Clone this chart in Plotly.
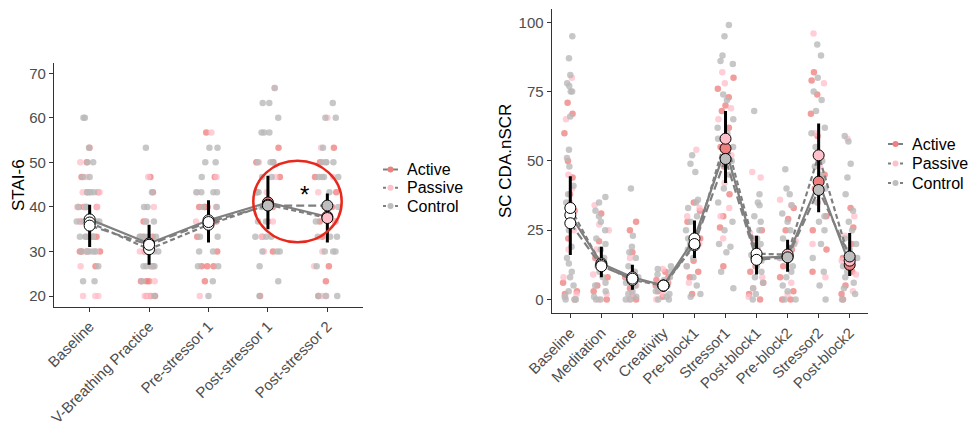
import plotly.graph_objects as go

W, H = 972, 425
groups = ["Active", "Passive", "Control"]
point_colors = {"Active": "rgba(238,128,128,0.78)", "Passive": "rgba(255,190,202,0.75)", "Control": "rgba(185,185,185,0.8)"}
mean_colors = {"Active": "#F08080", "Passive": "#FFC0CB", "Control": "#BEBEBE"}
dashes = {"Active": "solid", "Passive": "5px,3px", "Control": "8px,4px"}

# ---------------- Left panel: STAI-6 ----------------
left_cats = ["Baseline", "V-Breathing Practice", "Pre-stressor 1", "Post-stressor 1", "Post-stressor 2"]
left_active = [
    [53.3, 43.3, 40, 40, 36.7, 36.7, 33.3, 33.3, 30, 30, 30, 40, 43.3, 36.7, 33.3, 26.7, 46.7, 50, 30, 40],
    [46.7, 43.3, 36.7, 33.3, 30, 26.7, 23.3, 23.3, 23.3, 20, 20, 20, 33.3, 30],
    [56.7, 46.7, 40, 40, 40, 36.7, 30, 26.7, 26.7, 26.7, 23.3, 40, 33.3],
    [53.3, 50, 50, 46.7, 40, 36.7, 30, 20, 43.3, 33.3],
    [53.3, 50, 46.7, 43.3, 40, 36.7, 33.3, 26.7, 23.3, 20, 36.7],
]
left_passive = [
    [50, 46.7, 43.3, 40, 40, 36.7, 33.3, 30, 26.7, 20, 20, 20, 36.7, 40, 33.3, 30, 43.3, 36.7],
    [46.7, 40, 36.7, 33.3, 30, 26.7, 23.3, 20, 20, 30],
    [56.7, 46.7, 40, 20, 43.3, 36.7],
    [66.7, 50, 46.7, 43.3, 36.7, 33.3, 30],
    [60, 53.3, 46.7, 43.3, 40, 36.7, 30, 26.7, 20, 20],
]
left_control = [
    [60, 60, 53.3, 50, 50, 46.7, 46.7, 43.3, 43.3, 43.3, 40, 40, 36.7, 36.7, 36.7, 33.3, 33.3, 33.3, 30, 30, 30, 30, 26.7, 23.3, 23.3, 36.7, 40, 33.3, 30, 43.3],
    [53.3, 43.3, 40, 36.7, 33.3, 33.3, 33.3, 33.3, 30, 30, 26.7, 26.7, 26.7, 26.7, 23.3, 20, 36.7, 33.3, 30, 40],
    [53.3, 53.3, 50, 50, 46.7, 43.3, 43.3, 43.3, 43.3, 40, 36.7, 33.3, 33.3, 30, 30, 26.7, 26.7, 23.3, 20, 36.7, 40],
    [66.7, 63.3, 63.3, 60, 56.7, 56.7, 56.7, 50, 50, 50, 46.7, 46.7, 43.3, 40, 36.7, 33.3, 33.3, 33.3, 30, 30, 30, 26.7, 23.3, 20, 43.3, 36.7],
    [63.3, 60, 60, 53.3, 50, 50, 50, 46.7, 46.7, 46.7, 43.3, 40, 36.7, 33.3, 33.3, 33.3, 30, 30, 30, 26.7, 20, 20, 20, 50, 46.7],
]
left_means = {
    "Active": [37.2, 31.8, 37.0, 41.0, 37.8],
    "Passive": [36.5, 30.5, 36.0, 40.5, 37.5],
    "Control": [35.8, 31.5, 36.6, 40.3, 40.3],
}
left_fill = {
    "Active": ["white", "white", "white", "color", "color"],
    "Passive": ["white", "white", "white", "color", "color"],
    "Control": ["white", "white", "white", "color", "color"],
}
left_err_lo = [31, 27, 32, 35, 32]
left_err_hi = [40.5, 36, 41.5, 47, 43]

# ---------------- Right panel: SC CDA.nSCR ----------------
right_cats = ["Baseline", "Meditation", "Practice", "Creativity", "Pre-block1",
              "Stressor1", "Post-block1", "Pre-block2", "Stressor2", "Post-block2"]
right_active = [
    [71, 67, 60, 50, 44, 38, 32, 22, 6, 3, 0, 2],
    [31, 21, 12, 5, 3, 0, 8, 15],
    [28, 25, 17, 8, 4, 1, 0],
    [10, 8, 6, 5, 3, 1, 7],
    [35, 32, 28, 22, 14, 10, 8, 2],
    [80, 76, 73, 70, 68, 62, 55, 48, 38, 30, 26, 12],
    [25, 22, 18, 12, 10, 6, 2, 0],
    [33, 29, 25, 18, 12, 8, 3, 0, 0],
    [82, 79, 74, 67, 59, 52, 45, 40, 30, 25, 18, 10],
    [33, 26, 20, 15, 10, 5, 2, 0],
]
right_passive = [
    [80, 65, 45, 40, 35, 25, 18, 8, 2, 0, 1],
    [34, 27, 25, 18, 9, 2, 0],
    [15, 10, 5, 2, 0],
    [11, 7, 4, 2, 0],
    [54, 33, 30, 20, 12, 6],
    [82, 78, 69, 65, 52, 42, 33, 30, 22],
    [46, 44, 24, 15, 8, 4, 1],
    [36, 34, 21, 15, 6, 2],
    [96, 78, 60, 48, 35, 20, 8],
    [58, 30, 23, 14, 9, 3],
]
right_control = [
    [95, 87, 81, 78, 77, 75, 75, 66, 54, 51, 48, 41, 38, 35, 28, 25, 19, 15, 13, 10, 8, 5, 3, 1, 0, 0, 0],
    [37, 35, 32, 30, 28, 25, 22, 20, 18, 15, 12, 10, 8, 6, 5, 3, 1, 0, 0],
    [40, 23, 19, 17, 15, 12, 10, 8, 6, 5, 3, 2, 1, 0, 0],
    [12, 11, 10, 9, 8, 7, 6, 5, 4, 3, 2, 1, 0, 0],
    [52, 49, 46, 36, 35, 33, 30, 28, 25, 22, 20, 18, 15, 12, 8, 5, 2, 1],
    [99, 95, 88, 86, 85, 74, 72, 65, 62, 60, 58, 55, 50, 45, 40, 35, 28, 25, 20, 19, 17, 10, 4],
    [68, 38, 35, 34, 30, 28, 25, 22, 20, 18, 16, 14, 12, 10, 8, 6, 4, 2, 0],
    [47, 40, 38, 34, 31, 28, 25, 22, 20, 18, 15, 12, 10, 8, 5, 3, 0, 0],
    [92, 88, 80, 75, 72, 68, 62, 60, 55, 50, 48, 45, 40, 35, 30, 28, 25, 20, 15, 10, 5, 0],
    [59, 57, 49, 44, 38, 32, 28, 25, 22, 20, 18, 15, 12, 10, 8, 6, 4, 2, 0],
]
right_means = {
    "Active": [30.5, 13.0, 8.0, 5.0, 22.0, 54.5, 15.0, 15.5, 42.5, 12.5],
    "Passive": [33.0, 12.5, 7.0, 5.0, 19.5, 58.0, 16.5, 16.2, 52.0, 14.0],
    "Control": [27.5, 12.0, 7.5, 5.0, 20.0, 50.7, 14.3, 15.2, 39.5, 15.5],
}
right_fill = {
    g: ["white", "white", "white", "white", "white", "color", "white", "color", "color", "color"]
    for g in groups
}
right_err_lo = [16, 8, 3.5, 3, 15, 42, 9, 10, 31.5, 8.5]
right_err_hi = [44.5, 19, 12.5, 7, 28.5, 68, 23, 21.5, 63.5, 24]

fig = go.Figure()
shapes = []
annotations = []


def add_panel(cats, data, means, fills, lo, hi, xref, yref, box_w):
    # jittered raw points
    for g in groups:
        xs, ys = [], []
        for c, vals in zip(cats, data[g]):
            xs += [c] * len(vals)
            ys += vals
        fig.add_trace(go.Box(
            x=xs, y=ys, xaxis=xref, yaxis=yref, boxpoints="all", jitter=1.0, pointpos=0,
            width=box_w, fillcolor="rgba(0,0,0,0)", line=dict(width=0, color="rgba(0,0,0,0)"),
            marker=dict(color=point_colors[g], size=6.5, line=dict(width=0)),
            showlegend=False, hoverinfo="skip"))
    # group mean lines
    for g in groups:
        fig.add_trace(go.Scatter(
            x=cats, y=means[g], xaxis=xref, yaxis=yref, mode="lines",
            line=dict(color="#7f7f7f", width=2.2, dash=dashes[g]), showlegend=False, hoverinfo="skip"))
    # error bars
    ex, ey = [], []
    for c, l, h in zip(cats, lo, hi):
        ex += [c, c, None]
        ey += [l, h, None]
    fig.add_trace(go.Scatter(x=ex, y=ey, xaxis=xref, yaxis=yref, mode="lines",
                             line=dict(color="black", width=3), showlegend=False, hoverinfo="skip"))
    # mean markers
    for g in groups:
        cols = [mean_colors[g] if f == "color" else "white" for f in fills[g]]
        fig.add_trace(go.Scatter(
            x=cats, y=means[g], xaxis=xref, yaxis=yref, mode="markers",
            marker=dict(color=cols, size=11, line=dict(color="black", width=1)),
            showlegend=False, hoverinfo="skip"))


def add_legend(x_line0, x_text, y_first, step):
    for i, g in enumerate(groups):
        yc = y_first + i * step
        shapes.append(dict(type="line", xref="paper", yref="paper",
                           x0=x_line0 / W, x1=(x_line0 + 15) / W, y0=1 - yc / H, y1=1 - yc / H,
                           line=dict(color="#7f7f7f", width=2, dash="solid" if g == "Active" else "dot")))
        shapes.append(dict(type="circle", xref="paper", yref="paper",
                           x0=(x_line0 + 4.5) / W, x1=(x_line0 + 10.5) / W,
                           y0=1 - (yc + 3) / H, y1=1 - (yc - 3) / H,
                           fillcolor=mean_colors[g], line=dict(width=0)))
        annotations.append(dict(text=g, xref="paper", yref="paper", x=x_text / W, y=1 - yc / H,
                                xanchor="left", yanchor="middle", showarrow=False,
                                font=dict(size=16, color="black")))


add_panel(left_cats, {"Active": left_active, "Passive": left_passive, "Control": left_control},
          left_means, left_fill, left_err_lo, left_err_hi, "x", "y", 0.45)
add_panel(right_cats, {"Active": right_active, "Passive": right_passive, "Control": right_control},
          right_means, right_fill, right_err_lo, right_err_hi, "x2", "y2", 0.55)

add_legend(383, 405, 169.5, 18.3)
add_legend(888, 910, 144, 19.5)

axis_common = dict(showline=True, linecolor="#333333", linewidth=1.2, ticks="outside", ticklen=4,
                   tickcolor="#333333", tickfont=dict(size=15, color="#4d4d4d"),
                   showgrid=False, zeroline=False, automargin=False)

shapes.append(dict(type="circle", xref="paper", yref="paper",
                   x0=253.3 / W, x1=341.7 / W, y0=1 - 242.3 / H, y1=1 - 160.7 / H,
                   line=dict(color="#e8281c", width=2.5)))
annotations += [
    dict(text="STAI-6", xref="paper", yref="paper", x=18 / W, y=1 - 185 / H, textangle=-90,
         showarrow=False, font=dict(size=17, color="black"), xanchor="center", yanchor="middle"),
    dict(text="SC CDA.nSCR", xref="paper", yref="paper", x=505 / W, y=1 - 161 / H, textangle=-90,
         showarrow=False, font=dict(size=17, color="black"), xanchor="center", yanchor="middle"),
    dict(text="*", xref="paper", yref="paper", x=304 / W, y=1 - 195 / H, showarrow=False,
         font=dict(size=24, color="black"), xanchor="center", yanchor="middle"),
]

fig.update_layout(
    width=W, height=H, margin=dict(l=0, r=0, t=0, b=0, autoexpand=False),
    paper_bgcolor="white", plot_bgcolor="white", boxmode="overlay", showlegend=False,
    font=dict(family="Arial, Liberation Sans, sans-serif", color="black"),
    xaxis=dict(domain=[54 / W, 363 / W], type="category", categoryorder="array",
               categoryarray=left_cats, range=[-0.6, 4.6], tickangle=-45, anchor="y",
               ticklabelstandoff=0, **axis_common),
    yaxis=dict(domain=[1 - 306.7 / H, 1 - 63 / H], range=[17.6, 72.3], tickvals=[20, 30, 40, 50, 60, 70],
               anchor="x", **axis_common),
    xaxis2=dict(domain=[551.7 / W, 868.3 / W], type="category", categoryorder="array",
                categoryarray=right_cats, range=[-0.6, 9.6], tickangle=-45, anchor="y2",
                ticklabelstandoff=0, **axis_common),
    yaxis2=dict(domain=[1 - 313.3 / H, 1 - 9.3 / H], range=[-5.0, 104.7], tickvals=[0, 25, 50, 75, 100],
                anchor="x2", **axis_common),
    shapes=shapes,
    annotations=annotations,
)

fig.write_html("out.html")
